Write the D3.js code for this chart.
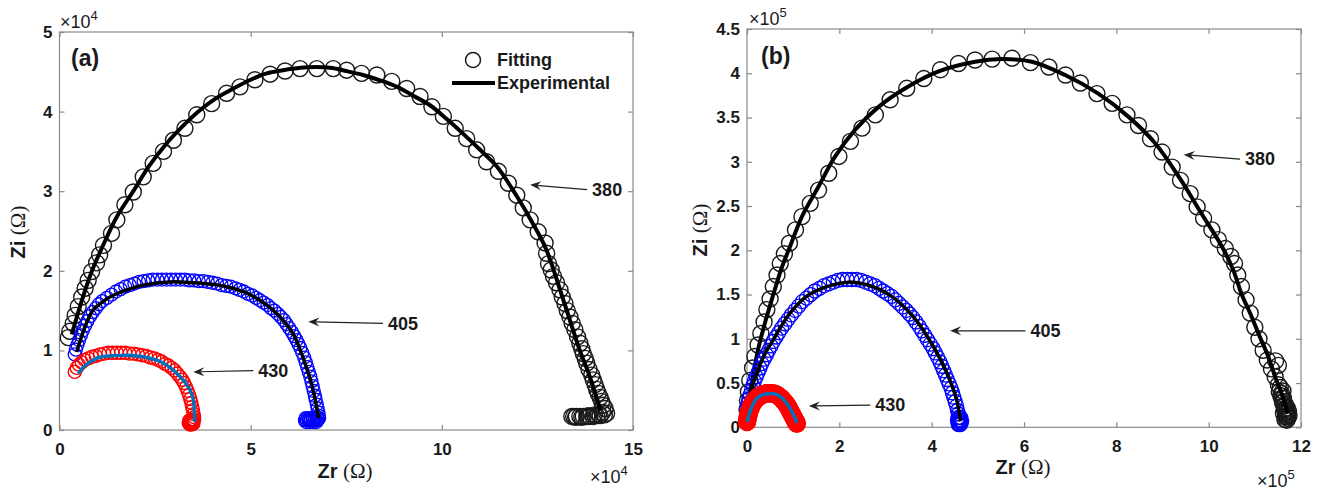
<!DOCTYPE html>
<html><head><meta charset="utf-8">
<script src="https://cdn.jsdelivr.net/npm/d3@7"></script>
<style>body{margin:0;background:#fff} svg{display:block} text{font-family:"Liberation Sans",Arial,sans-serif}</style>
</head><body><svg id="c" width="1323" height="493"></svg>
<script>
// ---------- Panel (a): values in units of 1e4 Ohm ----------
const xTicksA = [0, 5, 10, 15];
const yTicksA = [0, 1, 2, 3, 4, 5];
const fitA380 = [[0.23,1.16],[0.27,1.24],[0.36,1.34],[0.41,1.44],[0.49,1.55],[0.58,1.67],[0.67,1.78],[0.75,1.88],[0.84,1.99],[0.97,2.10],[1.05,2.20],[1.15,2.32],[1.36,2.47],[1.50,2.64],[1.71,2.83],[1.93,2.99],[2.19,3.18],[2.45,3.35],[2.72,3.50],[2.98,3.64],[3.28,3.79],[3.59,3.96],[3.98,4.10],[4.37,4.23],[4.72,4.31],[5.11,4.40],[5.51,4.47],[5.90,4.51],[6.29,4.54],[6.73,4.54],[7.16,4.54],[7.51,4.52],[7.90,4.48],[8.30,4.46],[8.69,4.38],[9.08,4.29],[9.43,4.19],[9.74,4.06],[10.04,3.94],[10.35,3.79],[10.65,3.66],[10.91,3.52],[11.17,3.37],[11.48,3.25],[11.74,3.10],[11.96,2.95],[12.13,2.79],[12.31,2.64],[12.52,2.49],[12.70,2.35],[12.74,2.22],[12.79,2.09],[12.86,2.01],[12.92,1.93],[13.00,1.85],[13.09,1.76],[13.15,1.67],[13.22,1.59],[13.28,1.50],[13.35,1.42],[13.41,1.34],[13.48,1.26],[13.55,1.17],[13.61,1.09],[13.66,1.02],[13.70,0.96],[13.75,0.90],[13.79,0.84],[13.85,0.76],[13.92,0.69],[13.96,0.63],[14.01,0.57],[14.05,0.51],[14.09,0.46],[14.14,0.41],[14.18,0.36],[14.22,0.31],[14.27,0.27],[14.31,0.21],[14.25,0.19],[14.14,0.18],[14.05,0.18],[13.96,0.17],[13.87,0.17],[13.79,0.17],[13.70,0.17],[13.61,0.17],[13.52,0.17],[13.45,0.17],[13.40,0.17],[14.20,0.22],[14.10,0.20],[13.99,0.19],[13.83,0.18],[13.66,0.16],[13.50,0.16]];
const expA380 = [[0.32,1.2],[0.6,1.65],[0.85,2.0],[1.14,2.32],[1.5,2.68],[1.93,3.0],[2.35,3.32],[2.8,3.6],[3.25,3.83],[3.68,4.02],[4.1,4.17],[4.55,4.29],[5.0,4.4],[5.42,4.48],[5.85,4.52],[6.3,4.55],[6.7,4.56],[7.08,4.55],[7.5,4.51],[7.94,4.46],[8.4,4.39],[8.83,4.31],[9.25,4.2],[9.69,4.08],[10.12,3.91],[10.56,3.72],[11.0,3.52],[11.44,3.31],[11.97,2.93],[12.35,2.62],[12.72,2.28],[13.18,1.63],[13.61,1.0],[13.87,0.67],[14.05,0.4],[14.15,0.25]];
const fitA405 = [[0.40,0.95],[0.43,1.01],[0.47,1.07],[0.51,1.13],[0.56,1.19],[0.61,1.25],[0.67,1.31],[0.73,1.37],[0.80,1.43],[0.87,1.48],[0.95,1.53],[1.03,1.58],[1.12,1.62],[1.24,1.66],[1.36,1.70],[1.48,1.74],[1.60,1.77],[1.72,1.80],[1.84,1.82],[1.96,1.84],[2.08,1.86],[2.20,1.87],[2.32,1.88],[2.44,1.89],[2.56,1.89],[2.68,1.89],[2.80,1.89],[2.92,1.89],[3.04,1.89],[3.16,1.89],[3.28,1.89],[3.40,1.88],[3.52,1.88],[3.64,1.87],[3.76,1.87],[3.88,1.86],[4.00,1.85],[4.12,1.84],[4.24,1.82],[4.36,1.81],[4.48,1.80],[4.60,1.78],[4.71,1.76],[4.82,1.74],[4.93,1.71],[5.04,1.69],[5.14,1.66],[5.24,1.63],[5.34,1.60],[5.44,1.57],[5.53,1.53],[5.62,1.50],[5.71,1.46],[5.79,1.42],[5.87,1.38],[5.94,1.33],[6.01,1.28],[6.08,1.23],[6.14,1.18],[6.20,1.13],[6.25,1.08],[6.30,1.03],[6.35,0.97],[6.40,0.91],[6.44,0.85],[6.48,0.79],[6.52,0.73],[6.56,0.67],[6.59,0.61],[6.62,0.55],[6.65,0.49],[6.68,0.43],[6.70,0.38],[6.73,0.32],[6.75,0.27],[6.77,0.22],[6.78,0.18],[6.79,0.15],[6.76,0.13],[6.72,0.12],[6.67,0.12],[6.62,0.12],[6.57,0.12],[6.52,0.12],[6.47,0.12],[6.42,0.12],[6.44,0.15],[6.50,0.15],[6.56,0.15],[6.62,0.15],[6.68,0.15],[6.74,0.16],[6.45,0.10],[6.55,0.10],[6.65,0.10],[6.72,0.10]];
const expA405 = [[0.45,0.98],[0.58,1.18],[0.72,1.36],[0.88,1.51],[1.1,1.6],[1.32,1.67],[1.76,1.76],[2.19,1.82],[2.89,1.86],[3.5,1.85],[4.0,1.83],[4.37,1.80],[4.8,1.74],[5.24,1.63],[5.6,1.5],[5.9,1.35],[6.12,1.2],[6.3,1.0],[6.45,0.8],[6.58,0.6],[6.68,0.4],[6.74,0.25],[6.77,0.15]];
const fitA430 = [[0.40,0.73],[0.45,0.78],[0.51,0.82],[0.58,0.85],[0.66,0.88],[0.75,0.90],[0.85,0.92],[0.95,0.93],[1.06,0.95],[1.17,0.96],[1.28,0.97],[1.39,0.97],[1.50,0.97],[1.61,0.97],[1.72,0.97],[1.83,0.96],[1.94,0.96],[2.05,0.95],[2.16,0.94],[2.27,0.93],[2.38,0.91],[2.48,0.90],[2.58,0.88],[2.67,0.86],[2.76,0.83],[2.85,0.81],[2.93,0.78],[3.01,0.75],[3.08,0.71],[3.15,0.67],[3.21,0.63],[3.26,0.59],[3.31,0.54],[3.35,0.49],[3.39,0.44],[3.42,0.39],[3.45,0.34],[3.47,0.29],[3.49,0.25],[3.51,0.20],[3.52,0.16],[3.52,0.13],[3.50,0.11],[3.48,0.10],[3.45,0.09],[3.43,0.09],[3.40,0.09],[3.38,0.09],[3.40,0.12],[3.44,0.12],[3.47,0.13],[3.50,0.08],[3.46,0.07],[3.41,0.07]];
const expA430 = [[0.49,0.71],[0.65,0.80],[0.88,0.88],[1.1,0.92],[1.32,0.93],[1.76,0.94],[2.19,0.92],[2.63,0.86],[2.9,0.78],[3.07,0.71],[3.25,0.62],[3.37,0.54],[3.45,0.46],[3.50,0.38],[3.53,0.22],[3.54,0.10]];

// ---------- Panel (b): values in units of 1e5 Ohm ----------
const xTicksB = [0, 2, 4, 6, 8, 10, 12];
const yTicksB = [0, 0.5, 1, 1.5, 2, 2.5, 3, 3.5, 4, 4.5];
const fitB380 = [[0.00,0.20],[0.01,0.30],[0.03,0.40],[0.06,0.53],[0.12,0.67],[0.17,0.80],[0.24,0.93],[0.30,1.06],[0.37,1.19],[0.43,1.33],[0.50,1.45],[0.57,1.59],[0.65,1.72],[0.72,1.85],[0.81,1.96],[0.92,2.08],[1.05,2.23],[1.19,2.38],[1.37,2.53],[1.55,2.68],[1.77,2.87],[1.99,3.06],[2.24,3.23],[2.49,3.38],[2.78,3.53],[3.10,3.70],[3.46,3.83],[3.83,3.94],[4.19,4.04],[4.58,4.11],[4.94,4.15],[5.31,4.16],[5.74,4.17],[6.14,4.12],[6.54,4.07],[6.90,3.98],[7.22,3.89],[7.58,3.77],[7.91,3.66],[8.23,3.53],[8.48,3.41],[8.74,3.26],[8.99,3.11],[9.21,2.94],[9.39,2.79],[9.60,2.64],[9.75,2.49],[9.89,2.36],[10.07,2.23],[10.21,2.12],[10.36,2.02],[10.48,1.93],[10.56,1.85],[10.63,1.72],[10.71,1.59],[10.81,1.44],[10.90,1.29],[11.00,1.13],[11.09,1.00],[11.18,0.87],[11.27,0.76],[11.36,0.66],[11.44,0.57],[11.51,0.48],[11.58,0.38],[11.63,0.29],[11.67,0.21],[11.71,0.16],[11.51,0.70],[11.45,0.75],[11.55,0.45],[11.62,0.33],[11.66,0.26],[11.69,0.19],[11.72,0.14],[11.70,0.12],[11.66,0.12],[11.68,0.18],[11.70,0.22],[11.64,0.20],[11.60,0.28],[11.73,0.18],[11.67,0.15],[11.71,0.10],[11.65,0.09],[11.74,0.13],[11.62,0.16],[11.69,0.08],[11.63,0.24],[11.58,0.33],[11.53,0.40],[11.56,0.36],[11.61,0.41]];
const expB380 = [[0.0,0.2],[0.1,0.5],[0.25,0.9],[0.4,1.2],[0.57,1.5],[0.75,1.8],[0.93,2.04],[1.19,2.38],[1.55,2.72],[1.91,3.06],[2.34,3.36],[2.85,3.62],[3.43,3.83],[4.15,4.02],[4.94,4.13],[5.5,4.16],[6.17,4.13],[6.89,3.98],[7.61,3.77],[8.26,3.51],[8.84,3.21],[9.38,2.81],[9.85,2.41],[10.29,2.04],[10.53,1.78],[10.71,1.51],[10.93,1.25],[11.11,1.02],[11.29,0.80],[11.44,0.57],[11.58,0.38],[11.69,0.20],[11.72,0.16]];
const fitB405 = [[0.00,0.22],[0.02,0.27],[0.04,0.32],[0.07,0.37],[0.10,0.42],[0.13,0.47],[0.16,0.52],[0.20,0.57],[0.24,0.62],[0.28,0.67],[0.32,0.72],[0.37,0.77],[0.42,0.82],[0.47,0.87],[0.52,0.92],[0.57,0.97],[0.63,1.02],[0.69,1.07],[0.75,1.12],[0.82,1.17],[0.89,1.22],[0.96,1.27],[1.04,1.32],[1.12,1.37],[1.20,1.42],[1.29,1.46],[1.38,1.50],[1.47,1.54],[1.57,1.57],[1.67,1.60],[1.77,1.62],[1.87,1.64],[1.97,1.66],[2.07,1.67],[2.17,1.67],[2.27,1.67],[2.37,1.67],[2.47,1.66],[2.57,1.64],[2.67,1.62],[2.77,1.60],[2.86,1.57],[2.95,1.54],[3.04,1.51],[3.13,1.48],[3.21,1.44],[3.29,1.40],[3.37,1.36],[3.45,1.32],[3.52,1.28],[3.59,1.24],[3.66,1.19],[3.73,1.14],[3.79,1.09],[3.85,1.04],[3.91,0.99],[3.97,0.94],[4.03,0.89],[4.08,0.84],[4.13,0.79],[4.18,0.74],[4.22,0.69],[4.26,0.64],[4.30,0.59],[4.34,0.54],[4.38,0.49],[4.42,0.44],[4.45,0.39],[4.48,0.34],[4.51,0.29],[4.54,0.24],[4.56,0.19],[4.58,0.15],[4.60,0.11],[4.61,0.08],[4.62,0.06],[4.60,0.04],[4.62,0.03],[4.59,0.07],[4.63,0.08],[4.58,0.03],[4.64,0.05],[4.57,0.05],[4.56,0.08],[4.65,0.07],[4.63,0.11],[4.57,0.11]];
const expB405 = [[0.0,0.2],[0.08,0.4],[0.21,0.61],[0.38,0.82],[0.57,0.99],[0.75,1.15],[0.93,1.29],[1.29,1.48],[1.73,1.59],[2.2,1.64],[2.6,1.61],[3.1,1.49],[3.6,1.25],[4.04,0.91],[4.33,0.61],[4.54,0.31],[4.61,0.12],[4.62,0.07]];
const fitB430 = [[0.00,0.06],[0.005,0.08],[0.01,0.10],[0.02,0.12],[0.03,0.14],[0.04,0.16],[0.05,0.18],[0.065,0.20],[0.08,0.22],[0.095,0.24],[0.11,0.26],[0.13,0.275],[0.15,0.29],[0.17,0.305],[0.19,0.32],[0.215,0.33],[0.24,0.34],[0.265,0.35],[0.29,0.36],[0.315,0.365],[0.34,0.37],[0.37,0.375],[0.40,0.38],[0.43,0.383],[0.46,0.385],[0.49,0.385],[0.52,0.385],[0.55,0.383],[0.58,0.38],[0.61,0.375],[0.64,0.37],[0.665,0.36],[0.69,0.35],[0.715,0.34],[0.74,0.33],[0.765,0.315],[0.79,0.30],[0.815,0.285],[0.84,0.27],[0.86,0.255],[0.88,0.24],[0.90,0.22],[0.92,0.20],[0.94,0.18],[0.96,0.16],[0.975,0.145],[0.99,0.13],[1.005,0.115],[1.02,0.10],[1.035,0.085],[1.05,0.07],[1.06,0.06],[1.07,0.05],[1.08,0.04]];
const expB430 = [[0.0,0.06],[0.05,0.15],[0.12,0.25],[0.22,0.33],[0.35,0.37],[0.5,0.38],[0.65,0.37],[0.78,0.32],[0.9,0.24],[1.0,0.15],[1.06,0.08],[1.08,0.05]];

// annotations: label, arrow tip, arrow tail (data units)
const annA = [{t:"380", tip:[12.31,3.08], tail:[13.80,3.02]},{t:"405", tip:[6.51,1.36], tail:[8.46,1.34]},{t:"430", tip:[3.50,0.73], tail:[5.07,0.745]}];
const annB = [{t:"380", tip:[9.46,3.08], tail:[10.68,3.03]},{t:"405", tip:[4.40,1.09], tail:[6.03,1.09]},{t:"430", tip:[1.34,0.24], tail:[2.67,0.25]}];

const svg = d3.select("#c");
const AX = "#8a8a8a", TXT = "#1a1a1a";

const panels = [
  {xDom:[0,15], yDom:[0,5], L:59.5, R:633, T:32, B:430, xt:xTicksA, yt:yTicksA, exp:"4", tag:"(a)", fs:17,
   series:[
     {fit:fitA380, exp:expA380, fc:"#1a1a1a", lc:"#000", r:8, sw:1.4, lw:4},
     {fit:fitA405, exp:expA405, fc:"#0000ff", lc:"#000", r:6.5, sw:1.3, lw:3.5},
     {fit:fitA430, exp:expA430, fc:"#ff0000", lc:"#0072bd", r:6.5, sw:1.4, lw:3.4}],
   ann:annA, tagPos:[71,66], zr:[345,478], zi:[25,232], expTop:[60,28], expBot:[590,483], legend:true},
  {xDom:[0,12], yDom:[0,4.5], L:747, R:1301, T:29, B:427.3, xt:xTicksB, yt:yTicksB, exp:"5", tag:"(b)", fs:17,
   series:[
     {fit:fitB380, exp:expB380, fc:"#1a1a1a", lc:"#000", r:8, sw:1.4, lw:4},
     {fit:fitB405, exp:expB405, fc:"#0000ff", lc:"#000", r:7, sw:1.3, lw:3.5},
     {fit:fitB430, exp:expB430, fc:"#ff0000", lc:"#0072bd", r:8, sw:2.6, lw:3.4}],
   ann:annB, tagPos:[761,64], zr:[1023,474], zi:[707,230], expTop:[749,25], expBot:[1257,487], legend:false}
];

panels.forEach(p => {
  const x = d3.scaleLinear().domain(p.xDom).range([p.L, p.R]);
  const y = d3.scaleLinear().domain(p.yDom).range([p.B, p.T]);
  const g = svg.append("g");
  g.append("rect").attr("x", p.L).attr("y", p.T).attr("width", p.R - p.L).attr("height", p.B - p.T)
    .attr("fill", "#fff").attr("stroke", AX).attr("stroke-width", 1.2);
  const style = sel => {
    sel.select(".domain").remove();
    sel.selectAll(".tick line").attr("stroke", AX).attr("stroke-width", 1.2);
    sel.selectAll(".tick text").attr("fill", TXT).attr("font-size", p.fs).attr("font-weight", "bold")
      .attr("font-family", '"Liberation Sans", Arial, sans-serif');
  };
  g.append("g").attr("transform", `translate(0,${p.B})`)
    .call(d3.axisBottom(x).tickValues(p.xt).tickFormat(d => d).tickSizeInner(-5).tickSizeOuter(0).tickPadding(13)).call(style);
  g.append("g").attr("transform", `translate(0,${p.T})`)
    .call(d3.axisTop(x).tickValues(p.xt).tickFormat("").tickSizeInner(-5).tickSizeOuter(0)).call(style);
  g.append("g").attr("transform", `translate(${p.L},0)`)
    .call(d3.axisLeft(y).tickValues(p.yt).tickFormat(d => d).tickSizeInner(-5).tickSizeOuter(0).tickPadding(7)).call(style);
  g.append("g").attr("transform", `translate(${p.R},0)`)
    .call(d3.axisRight(y).tickValues(p.yt).tickFormat("").tickSizeInner(-5).tickSizeOuter(0)).call(style);

  const line = d3.line().x(d => x(d[0])).y(d => y(d[1])).curve(d3.curveCatmullRom.alpha(0.5));
  p.series.forEach(s => {
    g.append("g").selectAll("circle").data(s.fit).join("circle")
      .attr("cx", d => x(d[0])).attr("cy", d => y(d[1])).attr("r", s.r)
      .attr("fill", "none").attr("stroke", s.fc).attr("stroke-width", s.sw);
    g.append("path").datum(s.exp).attr("d", line).attr("fill", "none")
      .attr("stroke", s.lc).attr("stroke-width", s.lw).attr("stroke-linejoin", "round").attr("stroke-linecap", "butt");
  });

  // annotations
  p.ann.forEach(a => {
    const tx = x(a.tip[0]), ty = y(a.tip[1]), ex = x(a.tail[0]), ey = y(a.tail[1]);
    const ang = Math.atan2(ey - ty, ex - tx);
    g.append("line").attr("x1", tx + 6 * Math.cos(ang)).attr("y1", ty + 6 * Math.sin(ang)).attr("x2", ex).attr("y2", ey)
      .attr("stroke", "#222").attr("stroke-width", 1.2);
    const L = 11, W = 4.5, N = 7;
    const pt = (d, w) => [tx + d * Math.cos(ang) - w * Math.sin(ang), ty + d * Math.sin(ang) + w * Math.cos(ang)];
    const pts = [pt(0, 0), pt(L, W), pt(N, 0), pt(L, -W)];
    g.append("path").attr("d", "M" + pts.map(q => q.join(",")).join("L") + "Z").attr("fill", "#222");
    g.append("text").attr("x", ex + 5).attr("y", ey).attr("dy", "0.35em").attr("font-size", 18)
      .attr("font-weight", "bold").attr("fill", TXT).text(a.t);
  });

  // panel tag
  g.append("text").attr("x", p.tagPos[0]).attr("y", p.tagPos[1]).attr("font-size", 23).attr("font-weight", "bold")
    .attr("fill", TXT).text(p.tag);

  // exponent labels
  [p.expTop, p.expBot].forEach(e => {
    const t = g.append("text").attr("x", e[0]).attr("y", e[1]).attr("font-size", 18).attr("fill", TXT);
    t.append("tspan").text("\u00d710");
    t.append("tspan").attr("dy", -8).attr("font-size", 13).text(p.exp);
  });

  // axis titles
  const zr = g.append("text").attr("x", p.zr[0]).attr("y", p.zr[1]).attr("text-anchor", "middle").attr("fill", TXT);
  zr.append("tspan").attr("font-size", 20).attr("font-weight", "bold").text("Zr ");
  zr.append("tspan").attr("font-size", 21).attr("font-family", '"Liberation Serif", serif').text("(\u03a9)");
  const zi = g.append("text").attr("transform", `translate(${p.zi[0]},${p.zi[1]}) rotate(-90)`)
    .attr("text-anchor", "middle").attr("fill", TXT);
  zi.append("tspan").attr("font-size", 20).attr("font-weight", "bold").text("Zi ");
  zi.append("tspan").attr("font-size", 21).attr("font-family", '"Liberation Serif", serif').text("(\u03a9)");

  if (p.legend) {
    const lg = g.append("g");
    lg.append("circle").attr("cx", 473).attr("cy", 60).attr("r", 7.5).attr("fill", "none").attr("stroke", "#1a1a1a").attr("stroke-width", 1.5);
    lg.append("text").attr("x", 497).attr("y", 60).attr("dy", "0.35em").attr("font-size", 18).attr("font-weight", "bold").attr("fill", TXT).text("Fitting");
    lg.append("line").attr("x1", 452).attr("x2", 495).attr("y1", 83).attr("y2", 83).attr("stroke", "#000").attr("stroke-width", 4);
    lg.append("text").attr("x", 497).attr("y", 83).attr("dy", "0.35em").attr("font-size", 18).attr("font-weight", "bold").attr("fill", TXT).text("Experimental");
  }
});
</script></body></html>
